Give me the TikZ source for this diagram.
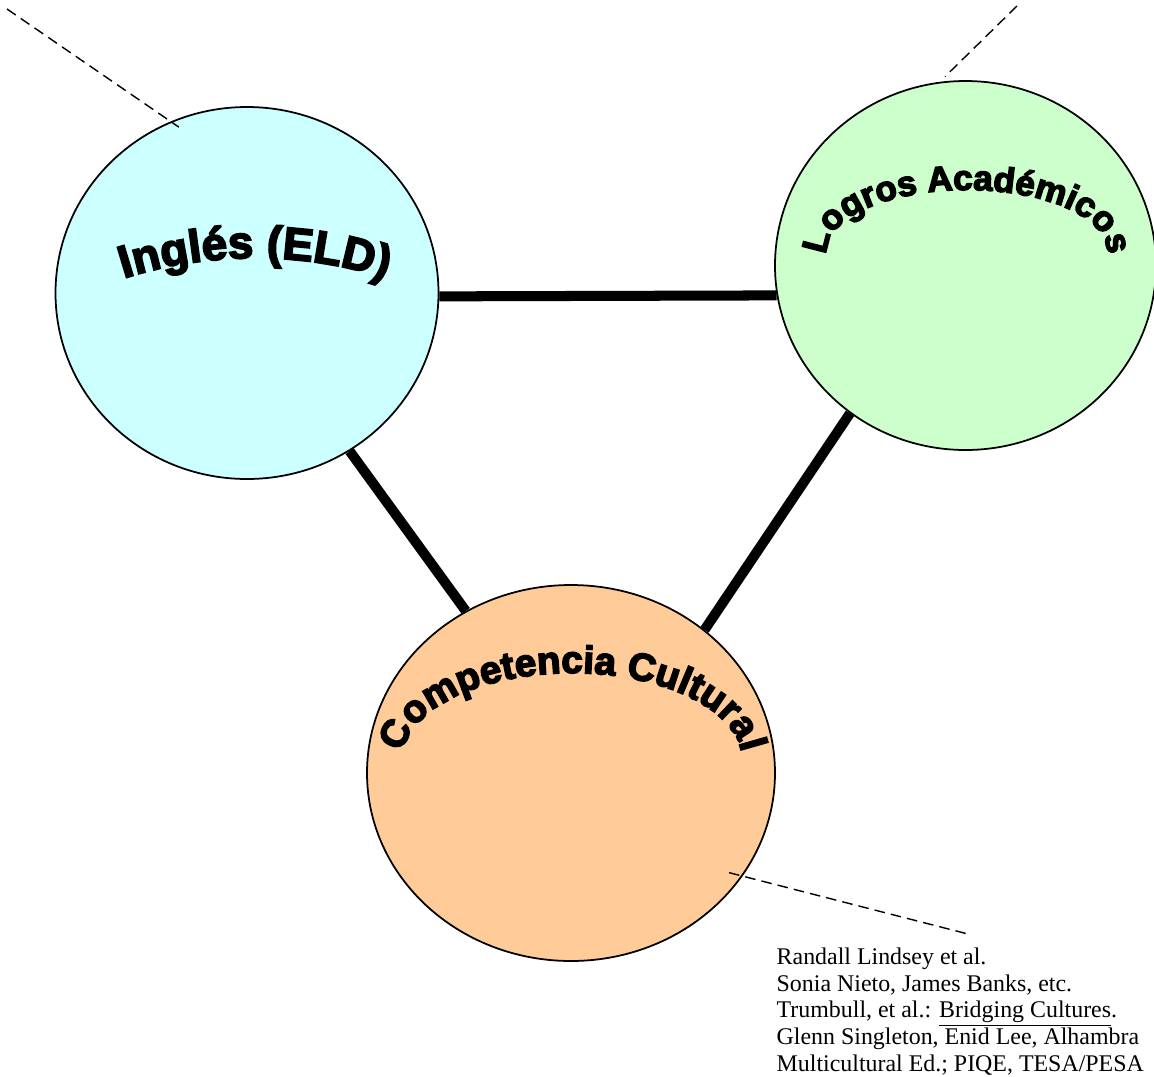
\documentclass[tikz,border=0pt]{standalone}
\usepackage{fontspec}
\usepackage{xcolor}
\usepackage{tikz}
\usetikzlibrary{shapes.geometric,decorations.text}

\setmainfont{Liberation Serif}
\newfontfamily\wordart{Liberation Sans}[UprightFont={* Bold},UprightFeatures={FakeBold=4}]

\definecolor{eldblue}{HTML}{CCFFFF}
\definecolor{logrosgreen}{HTML}{CCFFCC}
\definecolor{culturaorange}{HTML}{FFCC99}

\begin{document}
\begin{tikzpicture}[thick,area/.style={ellipse,draw,line width=1pt,inner sep=0pt},
	link/.style={line width=5.7pt},
	note/.style={dash pattern=on 6pt off 3.5pt,line width=0.8pt},
	arch/.style={decorate,decoration={text along path,text align=center,text={#1}}}]

	\useasboundingbox (0,0) rectangle (23.08,-21.52);

    % The circles
	\node [area,fill=eldblue,minimum width=7.66cm,minimum height=7.44cm] at (4.94,-5.86) (eld) {};
	\node [area,fill=logrosgreen,minimum width=7.62cm,minimum height=7.38cm] at (19.31,-5.31) (logros) {};
	\node [area,fill=culturaorange,minimum width=8.16cm,minimum height=7.52cm] at (11.42,-15.46) (cultura) {};

	% Curved titles
	\path[arch={|\wordart\fontsize{26}{26}\selectfont|Inglés (ELD)}]
	(2.50,-5.56) arc[start angle=107.5,end angle=72.5,radius=8.64];
	\path[arch={|\wordart\fontsize{20}{20}\selectfont|Logros Académicos}]
	(16.709,-5.437) arc[start angle=200,end angle=-20,x radius=2.8,y radius=1.22];
	\path[arch={|\wordart\fontsize{22}{22}\selectfont|Competencia Cultural}]
	(8.246,-15.796) arc[start angle=200,end angle=-20,x radius=3.4,y radius=1.74];

	% Links
	\path[link]
	(eld.-1) edge (logros.189.4)
	(eld.-57) edge (cultura.123)
	(logros.-128) edge (cultura.47);

	% Notes
	\coordinate (engnote) at (0.14,-0.18);
	\coordinate (logrosnote) at (20.34,-0.12);
	\coordinate (culturanote) at (19.36,-18.68);

	\node [anchor=north west,align=left,inner sep=0pt,font=\fontsize{13.6}{15.2}\selectfont] at (15.52,-18.94) (refs)
	{Randall Lindsey et al.\\
	 Sonia Nieto, James Banks, etc.\\
	 Trumbull, et al.: \underline{Bridging Cultures}.\\
	 Glenn Singleton, Enid Lee, Alhambra\\
	 Multicultural Ed.; PIQE, TESA/PESA};

	\path[note]
	(engnote) edge[shorten >=-0.2cm] (eld.114)
	(logrosnote) edge[shorten >=0.15cm] (logros.98.5)
	(cultura.-31) edge[shorten <=-0.28cm] (culturanote);

\end{tikzpicture}
\end{document}
